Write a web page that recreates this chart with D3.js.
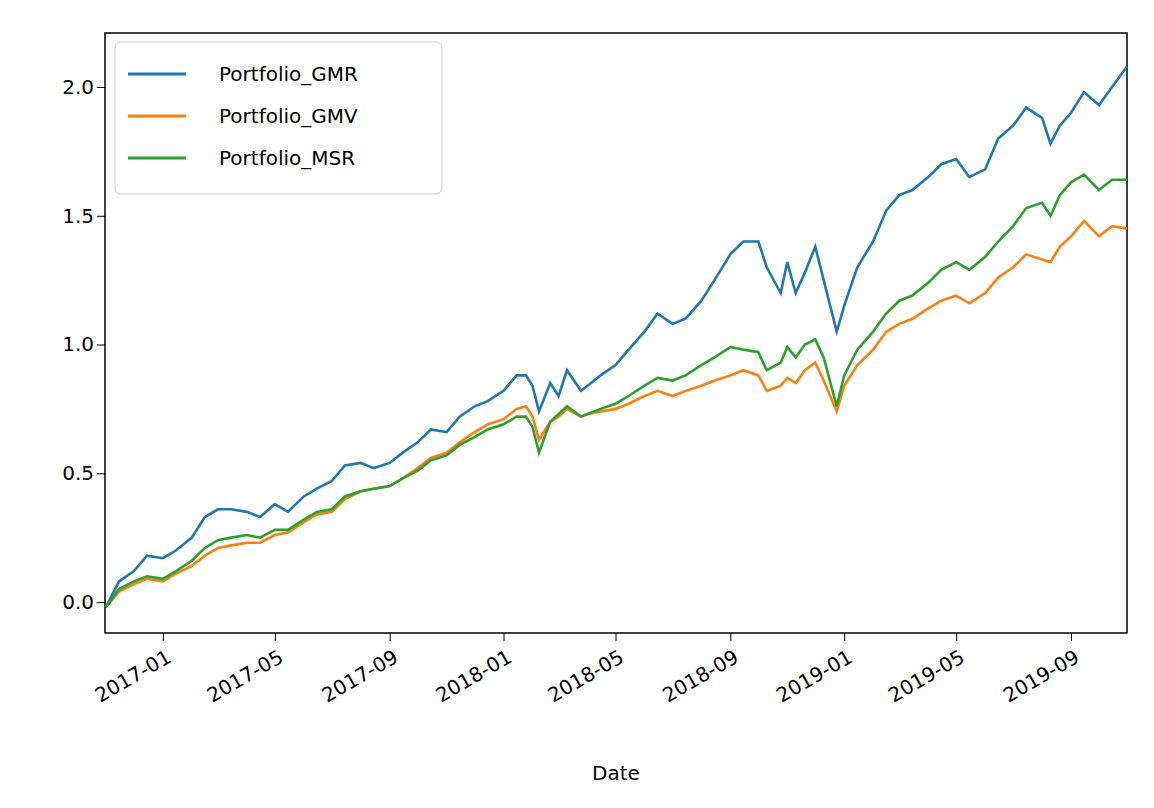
<!DOCTYPE html>
<html><head><meta charset="utf-8">
<script src="https://cdn.jsdelivr.net/npm/d3@7/dist/d3.min.js"></script>
<style>body{margin:0;background:#fff;font-family:"DejaVu Sans",sans-serif}</style>
</head><body><svg id="c" width="1154" height="808"></svg>
<script>
const dates = ["2016-11-01","2016-11-15","2016-12-01","2016-12-15","2017-01-01","2017-01-15","2017-02-01","2017-02-15","2017-03-01","2017-03-15","2017-04-01","2017-04-15","2017-05-01","2017-05-15","2017-06-01","2017-06-15","2017-07-01","2017-07-15","2017-08-01","2017-08-15","2017-09-01","2017-09-15","2017-10-01","2017-10-15","2017-11-01","2017-11-15","2017-12-01","2017-12-15","2018-01-01","2018-01-15","2018-01-25","2018-02-01","2018-02-08","2018-02-20","2018-03-01","2018-03-10","2018-03-25","2018-04-01","2018-04-15","2018-05-01","2018-05-15","2018-06-01","2018-06-15","2018-07-01","2018-07-15","2018-08-01","2018-08-15","2018-09-01","2018-09-15","2018-10-01","2018-10-10","2018-10-25","2018-11-01","2018-11-10","2018-11-20","2018-12-01","2018-12-10","2018-12-24","2019-01-01","2019-01-15","2019-02-01","2019-02-15","2019-03-01","2019-03-15","2019-04-01","2019-04-15","2019-05-01","2019-05-15","2019-06-01","2019-06-15","2019-07-01","2019-07-15","2019-08-01","2019-08-10","2019-08-20","2019-09-01","2019-09-15","2019-10-01","2019-10-15","2019-10-31"];
const gmr = [-0.02,0.08,0.12,0.18,0.17,0.20,0.25,0.33,0.36,0.36,0.35,0.33,0.38,0.35,0.41,0.44,0.47,0.53,0.54,0.52,0.54,0.58,0.62,0.67,0.66,0.72,0.76,0.78,0.82,0.88,0.88,0.84,0.74,0.85,0.80,0.90,0.82,0.84,0.88,0.92,0.98,1.05,1.12,1.08,1.10,1.17,1.25,1.35,1.40,1.40,1.30,1.20,1.32,1.20,1.28,1.38,1.25,1.05,1.15,1.30,1.40,1.52,1.58,1.60,1.65,1.70,1.72,1.65,1.68,1.80,1.85,1.92,1.88,1.78,1.85,1.90,1.98,1.93,2.00,2.08];
const gmv = [-0.02,0.04,0.07,0.09,0.08,0.11,0.14,0.18,0.21,0.22,0.23,0.23,0.26,0.27,0.31,0.34,0.35,0.40,0.43,0.44,0.45,0.48,0.52,0.56,0.58,0.62,0.66,0.69,0.71,0.75,0.76,0.72,0.63,0.70,0.72,0.75,0.72,0.73,0.74,0.75,0.77,0.80,0.82,0.80,0.82,0.84,0.86,0.88,0.90,0.88,0.82,0.84,0.87,0.85,0.90,0.93,0.86,0.74,0.84,0.92,0.98,1.05,1.08,1.10,1.14,1.17,1.19,1.16,1.20,1.26,1.30,1.35,1.33,1.32,1.38,1.42,1.48,1.42,1.46,1.45];
const msr = [-0.02,0.05,0.08,0.10,0.09,0.12,0.16,0.21,0.24,0.25,0.26,0.25,0.28,0.28,0.32,0.35,0.36,0.41,0.43,0.44,0.45,0.48,0.51,0.55,0.57,0.61,0.64,0.67,0.69,0.72,0.72,0.68,0.58,0.70,0.73,0.76,0.72,0.73,0.75,0.77,0.80,0.84,0.87,0.86,0.88,0.92,0.95,0.99,0.98,0.97,0.90,0.93,0.99,0.95,1.00,1.02,0.95,0.76,0.88,0.98,1.05,1.12,1.17,1.19,1.24,1.29,1.32,1.29,1.34,1.40,1.46,1.53,1.55,1.50,1.58,1.63,1.66,1.60,1.64,1.64];
const names = ["Portfolio_GMR","Portfolio_GMV","Portfolio_MSR"];
const colors = ["#1f77b4","#ff7f0e","#2ca02c"];
const yTicks = [0,0.5,1,1.5,2];

const svg = d3.select("#c");
const L=105,R=1127,T=33,B=633;
const parse=d3.timeParse("%Y-%m-%d");
const ds=dates.map(parse);
const x=d3.scaleTime().domain([parse("2016-10-31"),parse("2019-10-31")]).range([L,R]);
const y=d3.scaleLinear().domain([0,2]).range([602,87]);
const fs="20px";
const xa=svg.append("g").attr("transform",`translate(0,${B})`)
 .call(d3.axisBottom(x).ticks(d3.timeMonth.every(4)).tickFormat(d3.timeFormat("%Y-%m")).tickSizeOuter(0).tickSize(8));
xa.selectAll("text").attr("font-size",fs).attr("font-family","DejaVu Sans").attr("fill","#000")
 .attr("text-anchor","end").attr("transform","rotate(-30)").attr("dx","-0.3em").attr("dy","0.9em");
const ya=svg.append("g").attr("transform",`translate(${L},0)`)
 .call(d3.axisLeft(y).tickValues(yTicks).tickFormat(d3.format(".1f")).tickSizeOuter(0).tickSize(8));
ya.selectAll("text").attr("font-size",fs).attr("font-family","DejaVu Sans").attr("fill","#000");
svg.selectAll(".domain").remove();
svg.append("rect").attr("x",L).attr("y",T).attr("width",R-L).attr("height",B-T).attr("fill","none").attr("stroke","#000").attr("stroke-width",1.5);
const line=d3.line().x((d,i)=>x(ds[i])).y(d=>y(d));
[gmr,gmv,msr].forEach((s,k)=>{
 svg.append("path").datum(s).attr("d",line).attr("fill","none").attr("stroke",colors[k]).attr("stroke-width",2.6);
});
svg.append("rect").attr("x",115).attr("y",42).attr("width",327).attr("height",152).attr("rx",6)
 .attr("fill","#fff").attr("fill-opacity",0.8).attr("stroke","#ccc");
names.forEach((n,k)=>{
 const yy=74+k*42;
 svg.append("line").attr("x1",128).attr("x2",186).attr("y1",yy).attr("y2",yy).attr("stroke",colors[k]).attr("stroke-width",2.8);
 svg.append("text").attr("x",219).attr("y",yy+7).attr("font-size",fs).text(n);
});
svg.append("text").attr("x",(L+R)/2).attr("y",780).attr("text-anchor","middle").attr("font-size",fs).text("Date");
</script></body></html>
